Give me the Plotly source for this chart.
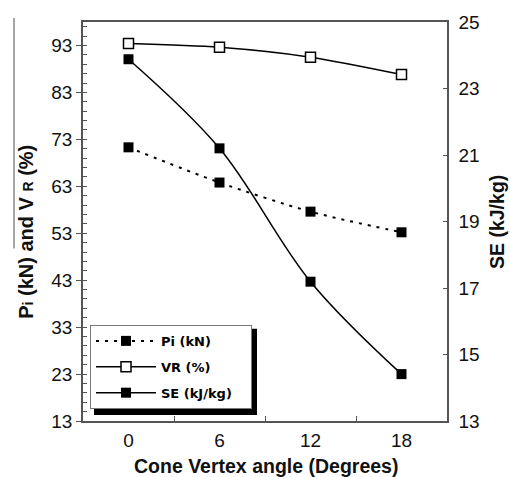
import plotly.graph_objects as go

angles = ["0", "6", "12", "18"]
pi_kn = [71.3, 63.8, 57.6, 53.2]
vr_pct = [93.4, 92.6, 90.5, 86.8]
se_kjkg = [23.88, 21.2, 17.19, 14.41]

left_ticks = [13, 23, 33, 43, 53, 63, 73, 83, 93]
right_ticks = [13, 15, 17, 19, 21, 23, 25]

AX = "#555555"
TF = dict(family="Arial, Liberation Sans, sans-serif", size=19, color="#111111")
BF = dict(family="Arial, Liberation Sans, sans-serif", size=19.5, color="#111111", weight="bold")
YF = dict(family="Arial, Liberation Sans, sans-serif", size=20, color="#111111", weight="bold")

fig = go.Figure()
fig.add_trace(go.Scatter(
    x=angles, y=pi_kn, name="Pi (kN)", legendgroup="a", mode="lines+markers",
    line=dict(color="black", width=2, dash="3px,6px", shape="spline", smoothing=0.8),
    marker=dict(symbol="square", size=10, color="black")))
fig.add_trace(go.Scatter(
    x=angles, y=vr_pct, name="VR (%)", legendgroup="b", mode="lines+markers",
    line=dict(color="black", width=1.5, shape="spline", smoothing=0.8),
    marker=dict(symbol="square", size=10, color="white", line=dict(color="black", width=1.5))))
fig.add_trace(go.Scatter(
    x=angles, y=se_kjkg, name="SE (kJ/kg)\u00a0\u00a0\u00a0", legendgroup="c", mode="lines+markers",
    yaxis="y2",
    line=dict(color="black", width=1.5, shape="spline", smoothing=1.0),
    marker=dict(symbol="square", size=10, color="black")))

W, H = 510, 477
L, R, T, B = 83, 63, 14, 56
pw, ph = W - L - R, H - T - B

def px(x):
    return (x - L) / pw

def py(y):
    return (H - B - y) / ph

fig.update_layout(
    width=W, height=H, margin=dict(l=L, r=R, t=T, b=B),
    paper_bgcolor="white", plot_bgcolor="white",
    font=TF,
    xaxis=dict(type="category", categoryorder="array", categoryarray=angles,
               range=[-0.5, 3.5], tickson="boundaries", ticks="inside", ticklen=5,
               tickcolor=AX, showline=True, linecolor=AX, linewidth=1.5, mirror=True,
               showgrid=False, zeroline=False, tickfont=TF, ticklabelstandoff=1),
    yaxis=dict(range=[13, 98], tickmode="array", tickvals=left_ticks,
               ticktext=[str(v) for v in left_ticks], ticks="outside", ticklen=5,
               tickcolor=AX, showline=True, linecolor=AX, linewidth=1.5,
               showgrid=False, zeroline=False, tickfont=TF,
               minor=dict(tickmode="linear", tick0=13, dtick=2, ticks="inside",
                          ticklen=4, tickcolor=AX, showgrid=False)),
    yaxis2=dict(range=[13, 25], overlaying="y", side="right", tickmode="array",
                tickvals=right_ticks, ticktext=[str(v) for v in right_ticks],
                ticks="inside", ticklen=4, tickcolor=AX, showline=True,
                linecolor=AX, linewidth=1.5, showgrid=False, zeroline=False,
                tickfont=TF, ticklabelstandoff=6),
    legend=dict(x=px(90), y=py(323), xanchor="left", yanchor="top",
                bgcolor="white", bordercolor="#777777", borderwidth=1,
                font=dict(family="DejaVu Sans, sans-serif", size=13, color="black", weight="bold"),
                tracegroupgap=6, itemwidth=60),
    showlegend=True,
)

fig.add_annotation(text="P<span style='font-size:14px'>i</span> (kN) and V <span style='font-size:14px'>R</span> (%)",
                   xref="paper", yref="paper", x=px(26), y=py(228), textangle=-90,
                   xanchor="center", yanchor="middle", showarrow=False, font=YF)
fig.add_annotation(text="SE (kJ/kg)", xref="paper", yref="paper", x=px(497), y=py(218),
                   textangle=-90, xanchor="center", yanchor="middle", showarrow=False, font=BF)
fig.add_annotation(text="Cone Vertex angle (Degrees)", xref="paper", yref="paper",
                   x=px(266), y=py(467), xanchor="center", yanchor="middle",
                   showarrow=False, font=BF)

# legend drop shadow
fig.add_shape(type="rect", xref="paper", yref="paper", x0=px(94), x1=px(257),
              y0=py(415), y1=py(327), fillcolor="black", line=dict(width=0), layer="above")
# scan line artifact at far left
fig.add_shape(type="line", xref="paper", yref="paper", x0=px(14), x1=px(14),
              y0=py(10), y1=py(245), line=dict(color="#888888", width=1.5))

fig.write_html("out.html")
